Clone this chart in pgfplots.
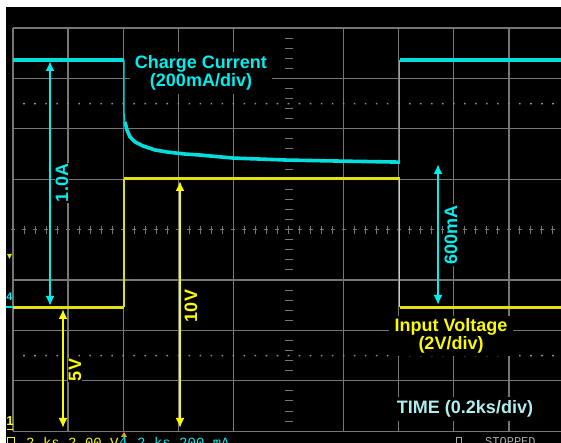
\documentclass[border=0pt]{standalone}
\usepackage{pgfplots}
\pgfplotsset{compat=1.18}
\usepackage{fontspec}
\setmainfont{Liberation Sans}
\newfontfamily\scopefont{Liberation Mono}
\usetikzlibrary{arrows.meta}

\definecolor{gridc}{RGB}{118,118,118}
\definecolor{ctrace}{RGB}{0,222,222}
\definecolor{ctext}{RGB}{0,238,238}
\definecolor{ytrace}{RGB}{226,226,10}
\definecolor{ytext}{RGB}{250,250,0}
\definecolor{timec}{RGB}{175,238,238}
\definecolor{stopc}{RGB}{170,170,170}
\definecolor{trigc}{RGB}{230,160,40}

% both traces share the screen: 13..564 px = 10 div (0.2 ks/div), 28..431 px = 8 div
\pgfplotsset{screen/.style={
    scale only axis, width=561pt, height=443pt,
    at={(0,0)}, anchor=south west, hide axis,
    xmin=-0.04719, xmax=1.98911}}

\newcommand\lab{\bfseries\fontsize{18}{23}\selectfont}

\begin{document}
\begin{tikzpicture}
% ---- screen background and graticule (pixel coordinates, y down)
\begin{scope}[x=1pt,y=-1pt,yshift=443pt]
  \fill[white] (0,0) rectangle (561,443);
  \fill[black] (6,7) rectangle (561,443);
  \foreach \k in {0,1,2,3,4,6,7,8,9}
    \draw[gridc, line width=1.3pt] ({13+55.1*\k},28) -- ({13+55.1*\k},431.2);
  \foreach \k in {0,1,2,3,5,6,7,8}
    \draw[gridc, line width=1.3pt] (13,{28+50.4*\k}) -- (561,{28+50.4*\k});
  % centre cross: tick marks only
  \foreach \j in {0,...,49}
    \draw[gridc, line width=1pt] ({13+11.02*\j},225.6) -- ({13+11.02*\j},233.6)
                                 ({13+11.02*\j-2},229.6) -- ({13+11.02*\j+2},229.6);
  \foreach \j in {0,...,40}
    \draw[gridc, line width=1pt] (284.5,{28+10.08*\j}) -- (292.5,{28+10.08*\j});
  % dotted level lines
  \foreach \j in {1,...,49}
    \fill[gridc!80] ({13+11.02*\j-0.8},102.8) rectangle ({13+11.02*\j+0.8},104.4)
                    ({13+11.02*\j-0.8},354.8) rectangle ({13+11.02*\j+0.8},356.4);
\end{scope}

% ---- input voltage, channel 1 (2 V/div, ground at bottom line)
\begin{axis}[screen, ymin=-0.4762, ymax=17.103]
  \addplot[ytrace, line width=3pt] coordinates {(0,4.92) (0.403,4.92)};
  \addplot[ytrace, line width=1.2pt] coordinates {(0.403,4.92) (0.403,10.0)};
  \addplot[ytrace, line width=3pt] coordinates {(0.403,10.0) (1.404,10.0)};
  \addplot[ytrace, line width=1.2pt] coordinates {(1.404,10.0) (1.404,4.92)};
  \addplot[ytrace, line width=3pt] coordinates {(1.404,4.92) (1.99,4.92)};
\end{axis}

% ---- charge current, channel 4 (200 mA/div)
\begin{axis}[screen, ymin=-539.7, ymax=1218.25]
  \addplot[ctrace, line width=3.3pt] coordinates {(0,980) (0.403,980)};
  \addplot[ctrace, line width=1.2pt] coordinates {(0.403,980) (0.403,770) (0.4065,734)};
  \addplot[ctrace, line width=3.6pt, line join=round] coordinates {
    (0.4065,734) (0.4138,702) (0.4247,675) (0.4428,655) (0.4719,639)
    (0.5154,623) (0.5590,615) (0.6243,607) (0.6788,603) (0.7985,591)
    (0.9946,583) (1.1869,579) (1.3975,575) (1.404,575)};
  \addplot[ctrace, line width=1.2pt] coordinates {(1.404,575) (1.404,980)};
  \addplot[ctrace, line width=3.3pt] coordinates {(1.404,980) (1.99,980)};
\end{axis}

% ---- annotations
\begin{scope}[x=1pt,y=-1pt,yshift=443pt]
  \node[fill=black, text=ctext, align=center, inner xsep=5pt, inner ysep=4pt]
    at (201,73) {\lab Charge Current\\\lab (200mA/div)};
  \node[fill=black, text=ytext, align=center, inner xsep=6pt, inner ysep=3pt]
    at (451,336) {\lab Input Voltage\\\lab (2V/div)};
  \node[fill=black, text=timec, inner xsep=5pt, inner ysep=4pt]
    at (465,409) {\lab TIME (0.2ks/div)};

  \draw[ctext, line width=2pt, {Latex[length=10pt,width=9pt]}-{Latex[length=10pt,width=9pt]}]
    (50,61) -- (50,306);
  \draw[ctext, line width=2pt, {Latex[length=10pt,width=9pt]}-{Latex[length=10pt,width=9pt]}]
    (438,164) -- (438,305);
  \draw[ytext, line width=2pt, {Latex[length=10pt,width=9pt]}-{Latex[length=10pt,width=9pt]}]
    (180,181) -- (180,428);
  \draw[ytext, line width=2pt, {Latex[length=10pt,width=9pt]}-{Latex[length=10pt,width=9pt]}]
    (63,309) -- (63,428);

  \node[fill=black, text=ctext, rotate=90, inner sep=1pt] at (62,183) {\lab 1.0A};
  \node[fill=black, text=ctext, rotate=90, inner sep=1pt] at (451,235) {\lab 600mA};
  \node[fill=black, text=ytext, rotate=90, inner sep=1pt] at (191,306) {\lab 10V};
  \node[fill=black, text=ytext, rotate=90, inner sep=1pt] at (75,370) {\lab 5V};

  % channel markers at the left edge
  \draw[ctrace, line width=2pt] (6,307) -- (13,307);
  \node[text=ctext, inner sep=0pt] at (9.5,297) {\bfseries\fontsize{11}{11}\selectfont 4};
  \node[text=ytext, inner sep=0pt] at (10,421) {\bfseries\fontsize{13}{13}\selectfont 1};
  \draw[ytext, line width=1pt] (7,429.5) -- (13,429.5);
  \fill[ytrace] (7,254) -- (12,254) -- (9.5,259) -- cycle;

  % status line, cut off by the bottom edge
  \begin{scope}
    \clip (0,0) rectangle (561,443);
    \fill[trigc] (121,437) -- (127,437) -- (124,432) -- cycle;
    \draw[ytext, line width=1pt] (7,437.5) rectangle (14,446);
    \node[anchor=north west, inner sep=0pt, text=ytext] at (26,437.5)
      {\scopefont\fontsize{14}{14}\selectfont 2 ks 2.00 V};
    \node[anchor=north west, inner sep=0pt, text=ctext] at (119,437.5)
      {\scopefont\fontsize{14}{14}\selectfont 4};
    \node[anchor=north west, inner sep=0pt, text=ctext] at (137,437.5)
      {\scopefont\fontsize{14}{14}\selectfont 2 ks 200 mA};
    \draw[stopc, line width=1pt] (456,437.5) rectangle (461,446);
    \node[anchor=north west, inner sep=0pt, text=stopc] at (485,437.5)
      {\scopefont\fontsize{12}{12}\selectfont STOPPED};
  \end{scope}
\end{scope}

\pgfresetboundingbox
\path[use as bounding box] (0,0) rectangle (561pt,443pt);
\end{tikzpicture}
\end{document}
